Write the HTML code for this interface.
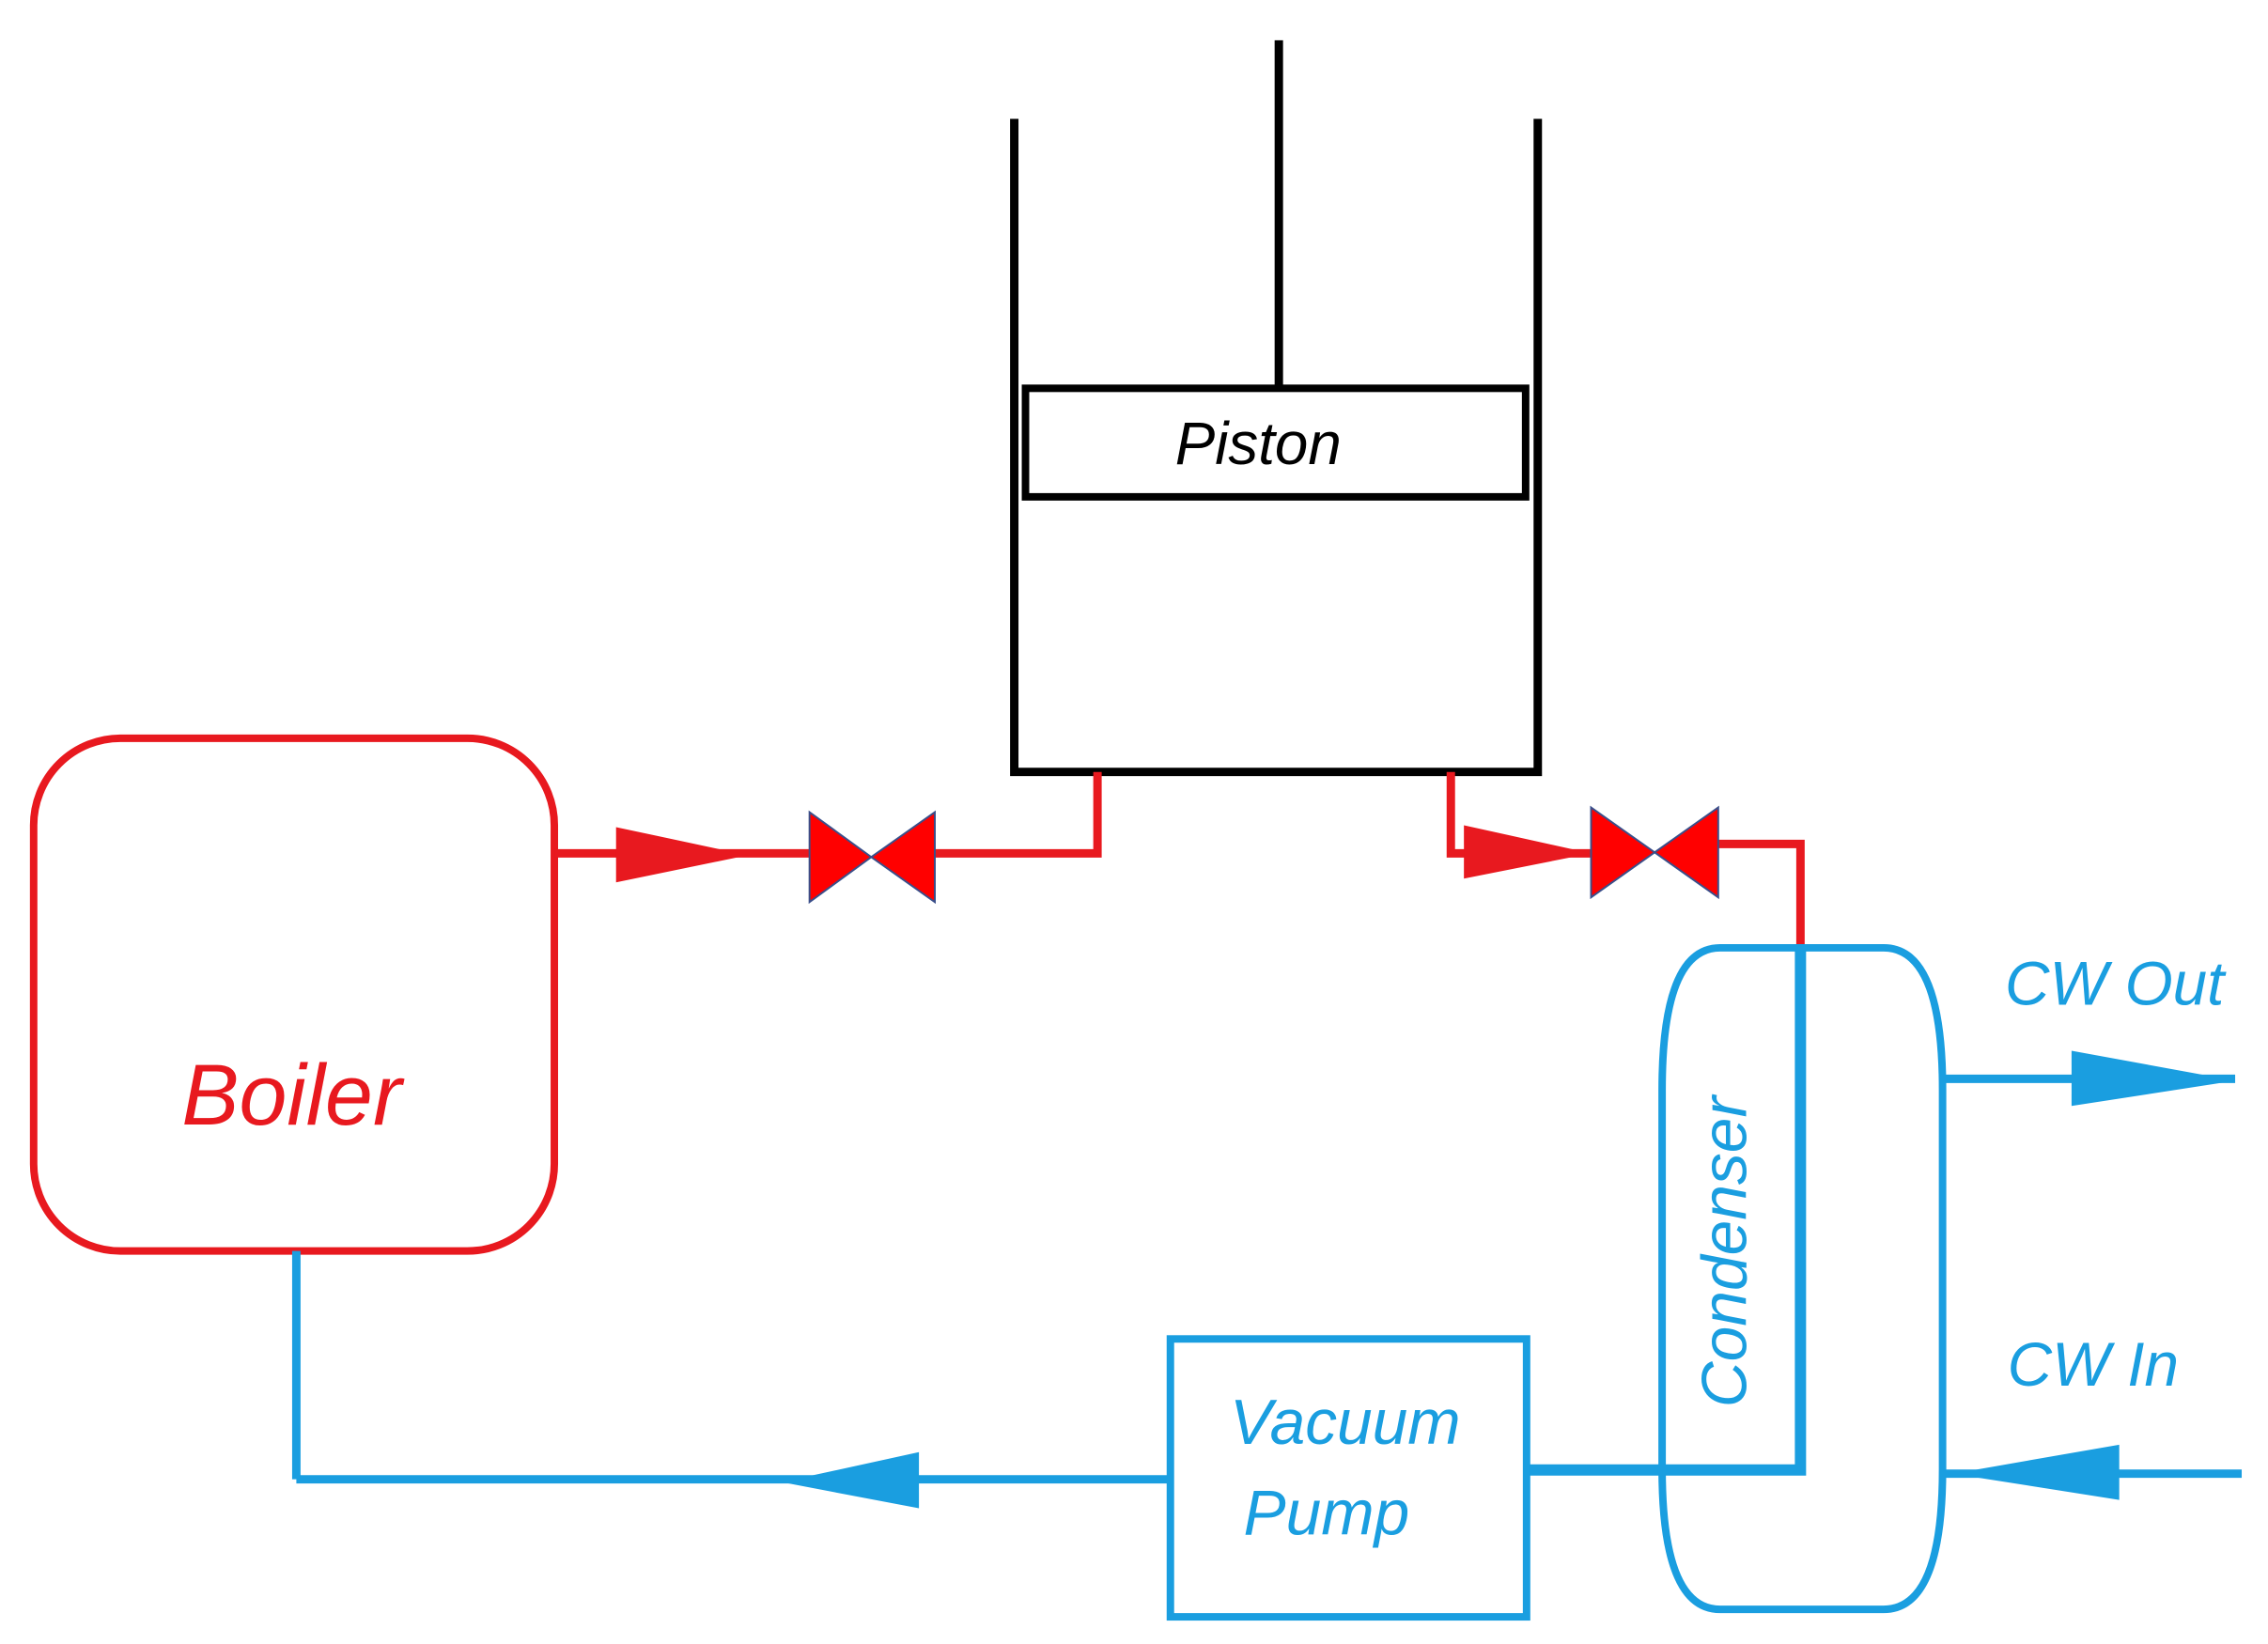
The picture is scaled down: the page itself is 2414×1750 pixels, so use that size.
<!DOCTYPE html>
<html><head><meta charset="utf-8"><style>
html,body{margin:0;padding:0;background:#fff;}
svg{display:block;}
text{font-family:"Liberation Sans",sans-serif;font-style:italic;}
</style></head><body>
<svg width="2414" height="1750" viewBox="0 0 2414 1750" xmlns="http://www.w3.org/2000/svg">
<rect width="2414" height="1750" fill="#fff"/>
<g transform="scale(0.995 0.996)">
<g stroke="#000" stroke-width="9" fill="none">
<line x1="1368" y1="43" x2="1368" y2="415"/>
<polyline points="1085,127 1085,825 1645,825 1645,127"/>
<rect x="1097" y="415" width="535" height="116" stroke-width="8"/>
</g>
<text x="1346" y="496" font-size="64" text-anchor="middle" fill="#000">Piston</text>

<rect x="36" y="789" width="557" height="548" rx="93" ry="93" fill="none" stroke="#e8191f" stroke-width="8"/>
<text x="312" y="1202" font-size="92" text-anchor="middle" fill="#e8191f">Boiler</text>

<g stroke="#e8191f" stroke-width="9" fill="none">
<line x1="593" y1="912" x2="866" y2="912"/>
<polyline points="1000,912 1174,912 1174,825"/>
<polyline points="1552,825 1552,912 1702,912"/>
<polyline points="1838,902 1926,902 1926,1013"/>
</g>
<polygon points="659,884 659,943 800,914" fill="#e8191f"/>
<polygon points="1566,882 1566,939 1702,912" fill="#e8191f"/>
<g fill="#ff0000" stroke="#3a4f8a" stroke-width="2">
<polygon points="866,868 866,964 932,916 1000,868 1000,964 932,916"/>
<polygon points="1702,863 1702,959 1770,911 1838,863 1838,959 1770,911"/>
</g>

<path d="M1840,1013 H2015 Q2078,1013 2078,1165 V1570 Q2078,1720 2015,1720 H1840 Q1778,1720 1778,1570 V1165 Q1778,1013 1840,1013 Z" fill="none" stroke="#1a9ee0" stroke-width="8"/>
<text transform="translate(1868,1338) rotate(-90)" font-size="68" text-anchor="middle" fill="#1a9ee0">Condenser</text>
<g stroke="#1a9ee0" fill="none">
<polyline points="1926,1013 1926,1571 1633,1571" stroke-width="12"/>
<line x1="1252" y1="1581" x2="317" y2="1581" stroke-width="9"/>
<polyline points="317,1581 317,1337" stroke-width="9"/>
<line x1="2078" y1="1153" x2="2391" y2="1153" stroke-width="9"/>
<line x1="2398" y1="1575" x2="2078" y2="1575" stroke-width="9"/>
</g>
<polygon points="983,1552 983,1612 836,1584" fill="#1a9ee0"/>
<polygon points="2216,1123 2216,1182 2391,1155" fill="#1a9ee0"/>
<polygon points="2267,1544 2267,1603 2089,1575" fill="#1a9ee0"/>

<rect x="1252" y="1431" width="381" height="297" fill="none" stroke="#1a9ee0" stroke-width="8"/>
<text x="1439" y="1543" font-size="68" text-anchor="middle" fill="#1a9ee0">Vacuum</text>
<text x="1419" y="1640" font-size="68" text-anchor="middle" fill="#1a9ee0">Pump</text>

<text x="2262" y="1074" font-size="66" text-anchor="middle" fill="#1a9ee0">CW Out</text>
<text x="2239" y="1481" font-size="66" text-anchor="middle" fill="#1a9ee0">CW In</text>
</g>
</svg>
</body></html>
